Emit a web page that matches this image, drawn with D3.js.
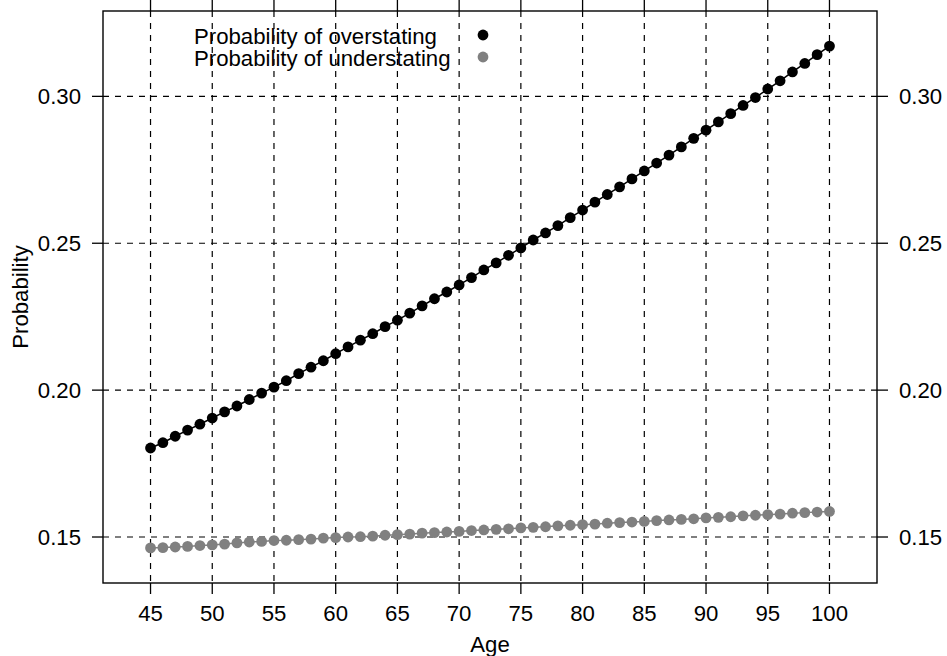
<!DOCTYPE html>
<html>
<head>
<meta charset="utf-8">
<script src="https://cdn.jsdelivr.net/npm/d3@7"></script>
<style>
  body { margin: 0; background: #fff; }
  svg { display: block; font-family: "Liberation Sans", Arial, Helvetica, sans-serif; }
  .grid line { stroke: #000; stroke-width: 1.2; stroke-dasharray: 6 6; }
  .tick-mark { stroke: #000; stroke-width: 1.3; }
  .label { font-size: 22.2px; fill: #000; }
</style>
</head>
<body>
<div id="chart"></div>
<script>
var ages = d3.range(45, 101);
var overstating = [
    0.1803, 0.1821, 0.1843, 0.1864, 0.1884, 0.1905, 0.1926, 0.1946, 0.1968, 0.1990,
    0.2010, 0.2032, 0.2056, 0.2078, 0.2100, 0.2124, 0.2147, 0.2170, 0.2192, 0.2216,
    0.2238, 0.2262, 0.2287, 0.2311, 0.2334, 0.2358, 0.2383, 0.2409, 0.2433, 0.2459,
    0.2484, 0.2511, 0.2535, 0.2560, 0.2587, 0.2613, 0.2640, 0.2666, 0.2692, 0.2719,
    0.2746, 0.2773, 0.2800, 0.2828, 0.2857, 0.2885, 0.2913, 0.2941, 0.2969, 0.2996,
    0.3025, 0.3053, 0.3083, 0.3112, 0.3142, 0.3171
];
var understating = [
    0.1463, 0.1464, 0.1466, 0.1468, 0.1471, 0.1473, 0.1476, 0.1480, 0.1483, 0.1485,
    0.1488, 0.1489, 0.1491, 0.1493, 0.1496, 0.1498, 0.1500, 0.1501, 0.1503, 0.1506,
    0.1508, 0.1510, 0.1513, 0.1515, 0.1517, 0.1519, 0.1522, 0.1524, 0.1526, 0.1528,
    0.1531, 0.1533, 0.1535, 0.1538, 0.1540, 0.1542, 0.1544, 0.1547, 0.1549, 0.1551,
    0.1553, 0.1556, 0.1558, 0.1560, 0.1562, 0.1565, 0.1567, 0.1569, 0.1572, 0.1574,
    0.1576, 0.1578, 0.1581, 0.1583, 0.1585, 0.1587
];
var xTicks = [45, 50, 55, 60, 65, 70, 75, 80, 85, 90, 95, 100];
var yTicks = [0.15, 0.20, 0.25, 0.30];
var seriesNames = ["Probability of overstating", "Probability of understating"];
var seriesColors = ["#000000", "#808080"];

var width = 947, height = 656;
var margin = { left: 103, right: 70, top: 11, bottom: 73 };

var svg = d3.select("#chart").append("svg")
    .attr("width", width)
    .attr("height", height);

// lattice style: pad the data range by 7% on each side
function padded(ext) {
    var p = (ext[1] - ext[0]) * 0.07;
    return [ext[0] - p, ext[1] + p];
}

var x = d3.scaleLinear()
    .domain(padded(d3.extent(ages)))
    .range([margin.left, width - margin.right]);

var y = d3.scaleLinear()
    .domain(padded(d3.extent(overstating.concat(understating))))
    .range([height - margin.bottom, margin.top]);

var x0 = x.range()[0], x1 = x.range()[1];
var y0 = y.range()[0], y1 = y.range()[1];

// grid
var grid = svg.append("g").attr("class", "grid");
grid.selectAll(".v").data(xTicks).enter().append("line")
    .attr("x1", function (d) { return x(d); })
    .attr("x2", function (d) { return x(d); })
    .attr("y1", y1).attr("y2", y0);
grid.selectAll(".h").data(yTicks).enter().append("line")
    .attr("y1", function (d) { return y(d); })
    .attr("y2", function (d) { return y(d); })
    .attr("x1", x0).attr("x2", x1);

// series
var line = d3.line()
    .x(function (d, i) { return x(ages[i]); })
    .y(function (d) { return y(d); });

[overstating, understating].forEach(function (vals, k) {
    var g = svg.append("g");
    g.append("path")
        .attr("d", line(vals))
        .attr("fill", "none")
        .attr("stroke", seriesColors[k])
        .attr("stroke-width", 1.5);
    g.selectAll("circle").data(vals).enter().append("circle")
        .attr("cx", function (d, i) { return x(ages[i]); })
        .attr("cy", function (d) { return y(d); })
        .attr("r", 5.4)
        .attr("fill", seriesColors[k]);
});

// frame
svg.append("rect")
    .attr("x", x0).attr("y", y1)
    .attr("width", x1 - x0).attr("height", y0 - y1)
    .attr("fill", "none")
    .attr("stroke", "#000")
    .attr("stroke-width", 1.4);

// tick marks: bottom, top, left, right
var tl = 11;
var ticks = svg.append("g");
xTicks.forEach(function (d) {
    ticks.append("line").attr("class", "tick-mark")
        .attr("x1", x(d)).attr("x2", x(d)).attr("y1", y0).attr("y2", y0 + tl);
    ticks.append("line").attr("class", "tick-mark")
        .attr("x1", x(d)).attr("x2", x(d)).attr("y1", y1).attr("y2", y1 - tl);
    ticks.append("text").attr("class", "label")
        .attr("x", x(d)).attr("y", 620.5)
        .attr("text-anchor", "middle")
        .text(d);
});
yTicks.forEach(function (d) {
    ticks.append("line").attr("class", "tick-mark")
        .attr("x1", x0 - tl).attr("x2", x0).attr("y1", y(d)).attr("y2", y(d));
    ticks.append("line").attr("class", "tick-mark")
        .attr("x1", x1).attr("x2", x1 + tl).attr("y1", y(d)).attr("y2", y(d));
    ticks.append("text").attr("class", "label")
        .attr("x", x0 - 22).attr("y", y(d) + 7.9)
        .attr("text-anchor", "end")
        .text(d3.format(".2f")(d));
    ticks.append("text").attr("class", "label")
        .attr("x", x1 + 22).attr("y", y(d) + 7.9)
        .attr("text-anchor", "start")
        .text(d3.format(".2f")(d));
});

// axis titles
svg.append("text").attr("class", "label")
    .attr("x", (x0 + x1) / 2).attr("y", 652)
    .attr("text-anchor", "middle")
    .text("Age");

svg.append("text").attr("class", "label")
    .attr("transform", "translate(28," + ((y0 + y1) / 2) + ") rotate(-90)")
    .attr("text-anchor", "middle")
    .text("Probability");

// legend
var legend = svg.append("g");
seriesNames.forEach(function (name, k) {
    var ly = 35 + k * 22;
    legend.append("text").attr("class", "label")
        .attr("x", 194).attr("y", ly + 8.8)
        .text(name);
    legend.append("circle")
        .attr("cx", 483).attr("cy", ly)
        .attr("r", 5.4)
        .attr("fill", seriesColors[k]);
});
</script>
</body>
</html>
